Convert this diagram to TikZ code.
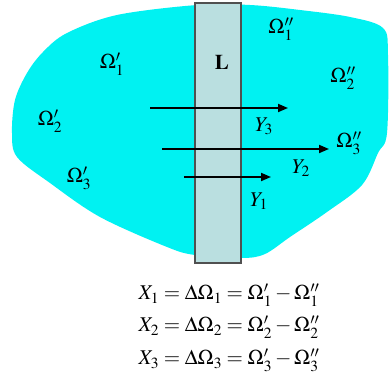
\documentclass[tikz,border=0pt]{standalone}
\usepackage{mathptmx}
\usetikzlibrary{arrows.meta,positioning}
\definecolor{BlobCyan}{HTML}{00F2F2}
\definecolor{StripBlue}{HTML}{BADFE0}
\definecolor{StripEdge}{HTML}{505050}

\begin{document}
\begin{tikzpicture}[
    x=1pt, y=-1pt,
    lbl/.style={font=\fontsize{21}{24}\selectfont, inner sep=0pt},
    strip/.style={draw=StripEdge, fill=StripBlue, line width=1.2pt, inner sep=0pt},
    flow/.style={-{Triangle[length=10pt, width=8pt]}, line width=1.8pt, color=black}
]
  \useasboundingbox (0,0) rectangle (389,387);

  % =========================================================================
  % REGIAO (MANCHA CIANO)
  % =========================================================================
  \fill[BlobCyan] plot[smooth cycle, tension=0.55] coordinates {
    (43,52) (67,33) (117,15) (197,5) (250,5) (300,10) (350,17) (383,28)
    (388,55) (387,133) (378,153) (362,185) (327,212) (290,237) (265,254)
    (242,258) (195,255) (167,247) (100,217) (50,183) (17,157) (12,133)
    (15,100) (27,73)};

  % Faixa L
  \node[strip, minimum width=46pt, minimum height=260pt] (n_strip) at (218,133) {};
  \node[lbl] (n_L) at (222,62) {$\mathbf{L}$};

  % Omegas esquerda
  \node[lbl] (o1l) at (112,64) {$\Omega'_1$};
  \node[lbl] (o2l) at (50,121) {$\Omega'_2$};
  \node[lbl] (o3l) at (79,178) {$\Omega'_3$};

  % Omegas direita
  \node[lbl] (o1r) at (281,29) {$\Omega''_1$};
  \node[lbl] (o2r) at (343,78) {$\Omega''_2$};
  \node[lbl] (o3r) at (349,143) {$\Omega''_3$};

  % =========================================================================
  % FLUXOS Y
  % =========================================================================
  \coordinate (y3s) at (150,108);
  \coordinate (y3e) at (288,108);
  \coordinate (y2s) at (162,149);
  \coordinate (y2e) at (329,149);
  \coordinate (y1s) at (184,177);
  \coordinate (y1e) at (271,177);

  \draw[flow] (y3s) -- (y3e);
  \draw[flow] (y2s) -- (y2e);
  \draw[flow] (y1s) -- (y1e);

  \node[lbl] (l_y3) at (264,126) {$Y_3$};
  \node[lbl] (l_y2) at (301,168) {$Y_2$};
  \node[lbl] (l_y1) at (259,201) {$Y_1$};

  % =========================================================================
  % EQUACOES
  % =========================================================================
  \node[lbl] (eq1) at (229,295) {$X_1=\Delta\Omega_1=\Omega'_1-\Omega''_1$};
  \node[lbl] (eq2) at (229,327) {$X_2=\Delta\Omega_2=\Omega'_2-\Omega''_2$};
  \node[lbl] (eq3) at (229,360) {$X_3=\Delta\Omega_3=\Omega'_3-\Omega''_3$};

\end{tikzpicture}
\end{document}
